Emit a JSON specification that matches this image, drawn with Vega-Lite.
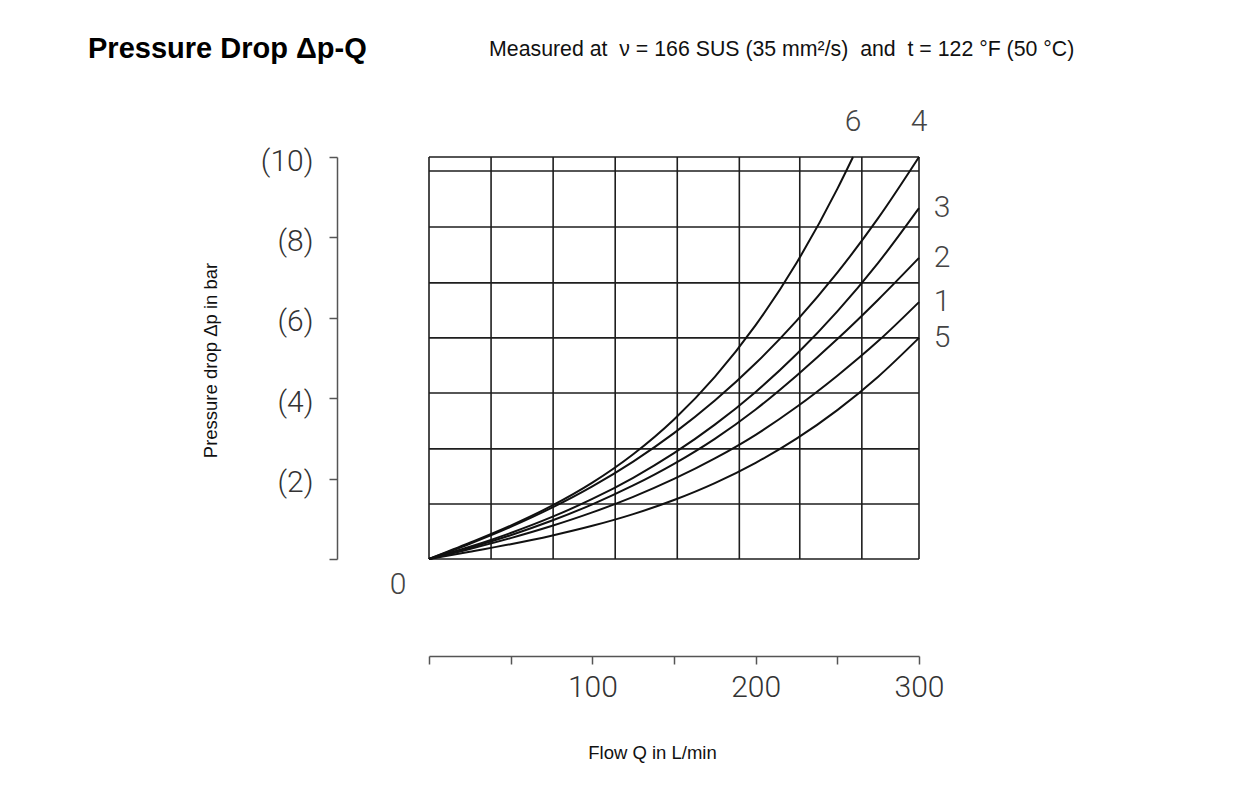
{
  "$schema": "https://vega.github.io/schema/vega-lite/v6.json",
  "width": 490,
  "height": 402,
  "autosize": {"type": "none"},
  "padding": {"left": 429, "top": 157, "right": 322, "bottom": 232},
  "background": "white",
  "config": {"view": {"stroke": null}, "font": "Liberation Sans"},
  "title": {
    "text": "Pressure Drop Δp-Q",
    "subtitle": "\u200b\u2003\u2003\u2003\u2003\u2003\u2003\u2003\u2003\u2003\u2003\u2003\u2003\u2003\u2003\u2003\u2003\u2003\u2003\u00a0\u00a0\u00a0Measured at\u00a0 ν = 166 SUS (35 mm²/s)\u00a0 and\u00a0 t = 122 °F (50 °C)",
    "anchor": "start",
    "frame": "group",
    "dx": -341,
    "offset": 43,
    "font": "Liberation Sans",
    "fontSize": 29,
    "fontWeight": "bold",
    "color": "#000",
    "subtitleFont": "Liberation Sans",
    "subtitleFontSize": 21.3,
    "subtitleColor": "#111",
    "subtitlePadding": -25
  },
  "datasets": {
    "curves": [
      {"curve": "6", "q": 0, "dp": 0}, {"curve": "6", "q": 25, "dp": 0.404}, {"curve": "6", "q": 50, "dp": 0.832}, {"curve": "6", "q": 75, "dp": 1.32}, {"curve": "6", "q": 100, "dp": 1.9}, {"curve": "6", "q": 125, "dp": 2.606}, {"curve": "6", "q": 150, "dp": 3.471}, {"curve": "6", "q": 175, "dp": 4.531}, {"curve": "6", "q": 200, "dp": 5.817}, {"curve": "6", "q": 225, "dp": 7.365}, {"curve": "6", "q": 250, "dp": 9.207}, {"curve": "6", "q": 259.6, "dp": 10},
      {"curve": "4", "q": 0, "dp": 0}, {"curve": "4", "q": 25, "dp": 0.379}, {"curve": "4", "q": 50, "dp": 0.798}, {"curve": "4", "q": 75, "dp": 1.27}, {"curve": "4", "q": 100, "dp": 1.807}, {"curve": "4", "q": 125, "dp": 2.423}, {"curve": "4", "q": 150, "dp": 3.13}, {"curve": "4", "q": 175, "dp": 3.94}, {"curve": "4", "q": 200, "dp": 4.868}, {"curve": "4", "q": 225, "dp": 5.925}, {"curve": "4", "q": 250, "dp": 7.124}, {"curve": "4", "q": 275, "dp": 8.478}, {"curve": "4", "q": 300, "dp": 10},
      {"curve": "3", "q": 0, "dp": 0}, {"curve": "3", "q": 25, "dp": 0.304}, {"curve": "3", "q": 50, "dp": 0.647}, {"curve": "3", "q": 75, "dp": 1.04}, {"curve": "3", "q": 100, "dp": 1.494}, {"curve": "3", "q": 125, "dp": 2.021}, {"curve": "3", "q": 150, "dp": 2.633}, {"curve": "3", "q": 175, "dp": 3.342}, {"curve": "3", "q": 200, "dp": 4.157}, {"curve": "3", "q": 225, "dp": 5.093}, {"curve": "3", "q": 250, "dp": 6.159}, {"curve": "3", "q": 275, "dp": 7.367}, {"curve": "3", "q": 300, "dp": 8.73},
      {"curve": "2", "q": 0, "dp": 0}, {"curve": "2", "q": 25, "dp": 0.279}, {"curve": "2", "q": 50, "dp": 0.592}, {"curve": "2", "q": 75, "dp": 0.95}, {"curve": "2", "q": 100, "dp": 1.36}, {"curve": "2", "q": 125, "dp": 1.829}, {"curve": "2", "q": 150, "dp": 2.367}, {"curve": "2", "q": 175, "dp": 2.99}, {"curve": "2", "q": 200, "dp": 3.72}, {"curve": "2", "q": 225, "dp": 4.56}, {"curve": "2", "q": 250, "dp": 5.47}, {"curve": "2", "q": 275, "dp": 6.45}, {"curve": "2", "q": 300, "dp": 7.49},
      {"curve": "1", "q": 0, "dp": 0}, {"curve": "1", "q": 25, "dp": 0.25}, {"curve": "1", "q": 50, "dp": 0.52}, {"curve": "1", "q": 75, "dp": 0.82}, {"curve": "1", "q": 100, "dp": 1.159}, {"curve": "1", "q": 125, "dp": 1.546}, {"curve": "1", "q": 150, "dp": 1.991}, {"curve": "1", "q": 175, "dp": 2.502}, {"curve": "1", "q": 200, "dp": 3.09}, {"curve": "1", "q": 225, "dp": 3.78}, {"curve": "1", "q": 250, "dp": 4.56}, {"curve": "1", "q": 275, "dp": 5.42}, {"curve": "1", "q": 300, "dp": 6.39},
      {"curve": "5", "q": 0, "dp": 0}, {"curve": "5", "q": 25, "dp": 0.18}, {"curve": "5", "q": 50, "dp": 0.369}, {"curve": "5", "q": 75, "dp": 0.58}, {"curve": "5", "q": 100, "dp": 0.825}, {"curve": "5", "q": 125, "dp": 1.116}, {"curve": "5", "q": 150, "dp": 1.467}, {"curve": "5", "q": 175, "dp": 1.888}, {"curve": "5", "q": 200, "dp": 2.393}, {"curve": "5", "q": 225, "dp": 2.994}, {"curve": "5", "q": 250, "dp": 3.704}, {"curve": "5", "q": 275, "dp": 4.535}, {"curve": "5", "q": 300, "dp": 5.5}
    ],
    "hgrid": [{"dp": 0}, {"dp": 1.37}, {"dp": 2.74}, {"dp": 4.13}, {"dp": 5.5}, {"dp": 6.87}, {"dp": 8.26}, {"dp": 9.65}, {"dp": 10}],
    "vgrid": [{"q": 0}, {"q": 38}, {"q": 76}, {"q": 114}, {"q": 152}, {"q": 190}, {"q": 227}, {"q": 265}, {"q": 300}],
    "origin": [{"q": 0, "dp": 0, "label": "0"}]
  },
  "layer": [
    {
      "data": {"name": "vgrid"},
      "mark": {"type": "rule", "color": "#1e1e1e", "strokeWidth": 1.6},
      "encoding": {
        "x": {
          "field": "q", "type": "quantitative",
          "scale": {"domain": [0, 300], "nice": false, "zero": true},
          "axis": {
            "title": "Flow Q in L/min",
            "values": [0, 50, 100, 150, 200, 250, 300],
            "labelExpr": "datum.value == 100 || datum.value == 200 || datum.value == 300 ? datum.label : ''",
            "offset": 97,
            "grid": false,
            "domainColor": "#555", "domainWidth": 1.5,
            "tickColor": "#555", "tickWidth": 1.5, "tickSize": 8,
            "labelFont": "Roboto", "labelFontWeight": 300, "labelFontSize": 30, "labelColor": "#333",
            "labelPadding": 8, "labelFlush": false, "labelOverlap": false,
            "titleFont": "Liberation Sans", "titleFontSize": 18.5, "titleFontWeight": "normal", "titleColor": "#111",
            "titleX": 223, "titleY": 96, "titleAlign": "center", "titleBaseline": "middle"
          }
        }
      }
    },
    {
      "data": {"name": "hgrid"},
      "mark": {"type": "rule", "color": "#1e1e1e", "strokeWidth": 1.6},
      "encoding": {
        "y": {
          "field": "dp", "type": "quantitative",
          "scale": {"domain": [0, 10], "nice": false},
          "axis": {
            "title": "Pressure drop Δp in bar",
            "values": [0, 2, 4, 6, 8, 10],
            "labelExpr": "datum.value == 0 ? '' : '(' + datum.label + ')'",
            "offset": 92,
            "grid": false,
            "domainColor": "#555", "domainWidth": 1.5,
            "tickColor": "#555", "tickWidth": 1.5, "tickSize": 8,
            "labelFont": "Roboto", "labelFontWeight": 300, "labelFontSize": 30, "labelColor": "#333",
            "labelPadding": 16, "labelOffset": 4, "labelFlush": false, "labelOverlap": false,
            "titleFont": "Liberation Sans", "titleFontSize": 18.5, "titleFontWeight": "normal", "titleColor": "#111",
            "titleX": -127, "titleY": 203, "titleAlign": "center", "titleBaseline": "middle", "titleAngle": -90
          }
        }
      }
    },
    {
      "data": {"name": "curves"},
      "mark": {"type": "line", "interpolate": "monotone", "color": "#111", "strokeWidth": 2},
      "encoding": {
        "x": {"field": "q", "type": "quantitative"},
        "y": {"field": "dp", "type": "quantitative"},
        "detail": {"field": "curve", "type": "nominal"}
      }
    },
    {
      "data": {"name": "curves"},
      "transform": [
        {"joinaggregate": [{"op": "max", "field": "q", "as": "qmax"}], "groupby": ["curve"]},
        {"filter": "datum.q == datum.qmax && (datum.curve == '6' || datum.curve == '4')"}
      ],
      "mark": {"type": "text", "dy": -35, "font": "Roboto", "fontWeight": 300, "fontSize": 30, "color": "#444", "baseline": "middle", "align": "center"},
      "encoding": {
        "x": {"field": "q", "type": "quantitative"},
        "y": {"field": "dp", "type": "quantitative"},
        "text": {"field": "curve", "type": "nominal"}
      }
    },
    {
      "data": {"name": "curves"},
      "transform": [
        {"joinaggregate": [{"op": "max", "field": "q", "as": "qmax"}], "groupby": ["curve"]},
        {"filter": "datum.q == datum.qmax && datum.curve != '6' && datum.curve != '4'"}
      ],
      "mark": {"type": "text", "dx": 23, "font": "Roboto", "fontWeight": 300, "fontSize": 30, "color": "#444", "baseline": "middle", "align": "center"},
      "encoding": {
        "x": {"field": "q", "type": "quantitative"},
        "y": {"field": "dp", "type": "quantitative"},
        "text": {"field": "curve", "type": "nominal"}
      }
    },
    {
      "data": {"name": "origin"},
      "mark": {"type": "text", "dx": -31, "dy": 26, "font": "Roboto", "fontWeight": 300, "fontSize": 30, "color": "#444", "baseline": "middle", "align": "center"},
      "encoding": {
        "x": {"field": "q", "type": "quantitative"},
        "y": {"field": "dp", "type": "quantitative"},
        "text": {"field": "label", "type": "nominal"}
      }
    }
  ]
}
